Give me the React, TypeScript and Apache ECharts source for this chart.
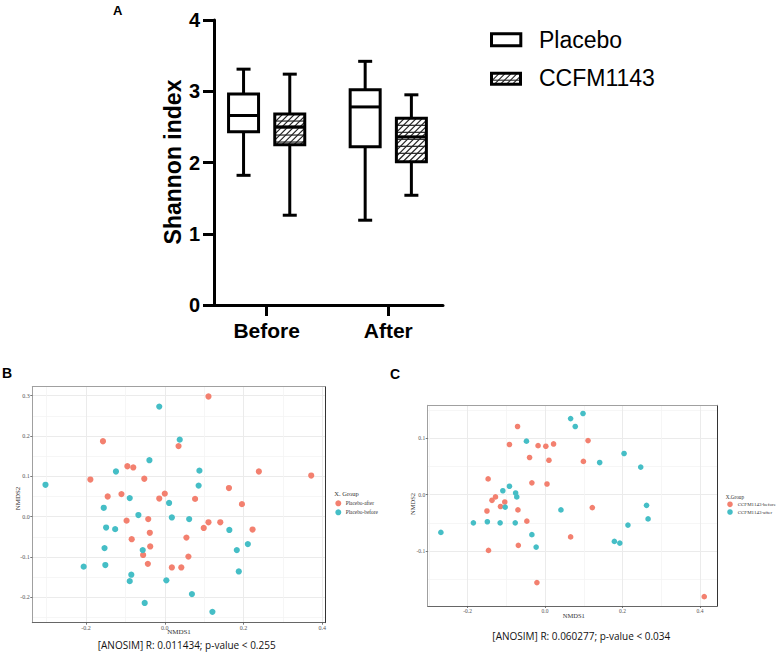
import React, { useEffect, useRef } from "react";
import * as echarts from "echarts";

// ---------- Panel A: Shannon index box plots ----------
const timepoints = ["Before", "After"];
const groups = ["Placebo", "CCFM1143"];
// [min, Q1, median, Q3, max] per timepoint
const placeboBox = [
  [1.82, 2.43, 2.66, 2.96, 3.31],
  [1.19, 2.22, 2.78, 3.02, 3.42],
];
const ccfmBox = [
  [1.26, 2.25, 2.5, 2.68, 3.24],
  [1.54, 2.01, 2.36, 2.62, 2.95],
];

// ---------- Panel B: NMDS placebo ----------
const placeboAfter = [
  [0.111, 0.298], [-0.157, 0.187], [0.035, 0.175], [-0.095, 0.125], [-0.08, 0.122],
  [-0.189, 0.092], [-0.052, 0.094], [0.239, 0.112], [0.372, 0.102], [0.163, 0.071],
  [-0.145, 0.05], [-0.11, 0.056], [0.0, 0.057], [-0.014, 0.045], [0.077, 0.044],
  [0.196, 0.031], [-0.097, -0.01], [-0.042, -0.006], [0.111, -0.014], [0.141, -0.014],
  [0.099, -0.028], [0.223, -0.032], [-0.038, -0.04], [-0.084, -0.056], [0.055, -0.052],
  [-0.037, -0.074], [-0.055, -0.095], [0.06, -0.099], [-0.043, -0.117], [0.018, -0.126],
  [0.042, -0.126],
];
const placeboBefore = [
  [-0.014, 0.273], [0.038, 0.191], [-0.039, 0.14], [-0.124, 0.112], [0.088, 0.114],
  [-0.303, 0.079], [0.086, 0.077], [-0.089, 0.046], [0.011, 0.034], [-0.155, 0.022],
  [-0.067, 0.004], [0.018, -0.002], [0.062, -0.006], [-0.149, -0.027], [-0.126, -0.031],
  [0.164, -0.033], [-0.153, -0.078], [-0.056, -0.083], [0.211, -0.068], [0.183, -0.083],
  [-0.206, -0.124], [-0.151, -0.12], [-0.085, -0.144], [-0.089, -0.16], [0.004, -0.158],
  [0.188, -0.136], [0.069, -0.192], [-0.051, -0.214], [0.121, -0.236],
];

// ---------- Panel C: NMDS CCFM1143 ----------
const ccfmBefore = [
  [-0.071, 0.121], [0.111, 0.096], [-0.092, 0.089], [-0.018, 0.087], [0.002, 0.086],
  [0.022, 0.09], [-0.04, 0.066], [0.01, 0.061], [0.099, 0.059], [-0.147, 0.028],
  [-0.034, 0.021], [0.005, 0.019], [-0.128, -0.004], [-0.137, -0.01], [-0.104, -0.013],
  [-0.115, -0.021], [-0.07, -0.027], [-0.15, -0.029], [0.122, -0.023], [-0.047, -0.047],
  [0.066, -0.075], [-0.069, -0.09], [-0.146, -0.099], [-0.021, -0.156], [0.411, -0.181],
];
const ccfmAfter = [
  [0.098, 0.144], [0.066, 0.135], [0.078, 0.121], [-0.048, 0.095], [0.204, 0.073],
  [0.141, 0.057], [0.247, 0.049], [-0.092, 0.015], [-0.109, 0.007], [-0.076, 0.003],
  [-0.073, -0.004], [-0.103, -0.022], [0.041, -0.027], [0.262, -0.019], [0.266, -0.043],
  [-0.185, -0.05], [-0.149, -0.048], [-0.116, -0.05], [-0.077, -0.05], [0.214, -0.054],
  [-0.034, -0.071], [-0.269, -0.067], [-0.023, -0.093], [0.179, -0.083], [0.193, -0.086],
];

const anosimB = "[ANOSIM] R: 0.011434; p-value < 0.255";
const anosimC = "[ANOSIM] R: 0.060277; p-value < 0.034";

const RED = "#F3806F";
const TEAL = "#45BEC6";
const SANS = "Liberation Sans";
const SERIF = "Liberation Serif";

function hatchSegments(x0: number, y0: number, x1: number, y1: number) {
  const segs: number[][] = [];
  const rowStep = 7;
  const diagStep = 6;
  for (let y = y0 + rowStep; y < y1 - 1.5; y += rowStep) segs.push([x0, y, x1, y]);
  for (let c = x0 + y0 + 2; c < x1 + y1; c += diagStep) {
    const xa = Math.max(x0, c - y1);
    const xb = Math.min(x1, c - y0);
    if (xb - xa > 0.6) segs.push([xa, c - xa, xb, c - xb]);
  }
  return segs;
}

function boxRenderItem(params: any, api: any) {
  const pos = api.value(0);
  const mn = api.value(1), q1 = api.value(2), md = api.value(3), q3 = api.value(4), mx = api.value(5);
  const hatched = api.value(6) === 1;
  const pMax = api.coord([pos, mx]);
  const pQ3 = api.coord([pos, q3]);
  const pMd = api.coord([pos, md]);
  const pQ1 = api.coord([pos, q1]);
  const pMin = api.coord([pos, mn]);
  const cx = pMax[0];
  const hw = 15;
  const cw = 7;
  const lw = 3;
  const st = { stroke: "#000", lineWidth: lw };
  const children: any[] = [];
  children.push({ type: "line", shape: { x1: cx, y1: pMax[1], x2: cx, y2: pQ3[1] }, style: st });
  children.push({ type: "line", shape: { x1: cx, y1: pQ1[1], x2: cx, y2: pMin[1] }, style: st });
  children.push({ type: "line", shape: { x1: cx - cw, y1: pMax[1], x2: cx + cw, y2: pMax[1] }, style: st });
  children.push({ type: "line", shape: { x1: cx - cw, y1: pMin[1], x2: cx + cw, y2: pMin[1] }, style: st });
  children.push({
    type: "rect",
    shape: { x: cx - hw, y: pQ3[1], width: 2 * hw, height: pQ1[1] - pQ3[1] },
    style: { fill: "#fff", stroke: null },
  });
  if (hatched) {
    hatchSegments(cx - hw, pQ3[1], cx + hw, pQ1[1]).forEach((s) => {
      children.push({ type: "line", shape: { x1: s[0], y1: s[1], x2: s[2], y2: s[3] }, style: { stroke: "#222", lineWidth: 1.2 } });
    });
  }
  children.push({ type: "line", shape: { x1: cx - hw, y1: pMd[1], x2: cx + hw, y2: pMd[1] }, style: st });
  children.push({
    type: "rect",
    shape: { x: cx - hw, y: pQ3[1], width: 2 * hw, height: pQ1[1] - pQ3[1] },
    style: { fill: null, stroke: "#000", lineWidth: lw },
  });
  return { type: "group", children };
}

function ggX(gridIndex: number, min: number, max: number, interval: number, fontSize: number, margin: number) {
  return {
    type: "value", gridIndex, min, max, minInterval: interval, maxInterval: interval, position: "bottom",
    axisLine: { show: true, onZero: false, lineStyle: { color: "#666", width: 1 } },
    axisTick: { show: true, length: 2, lineStyle: { color: "#555", width: 0.8 } },
    axisLabel: { show: true, fontSize, fontFamily: SERIF, color: "#555", margin, showMinLabel: false, showMaxLabel: false, formatter: (v: number) => v.toFixed(1) },
    splitLine: { show: true, lineStyle: { color: "#ebebeb", width: 1 } },
    minorTick: { show: false, splitNumber: 2 },
    minorSplitLine: { show: true, lineStyle: { color: "#f4f4f4", width: 0.8 } },
  };
}
function ggY(gridIndex: number, min: number, max: number, interval: number, fontSize: number, margin: number) {
  return {
    type: "value", gridIndex, min, max, minInterval: interval, maxInterval: interval, position: "left",
    axisLine: { show: true, onZero: false, lineStyle: { color: "#a0a0a0", width: 1 } },
    axisTick: { show: true, length: 2, lineStyle: { color: "#555", width: 0.8 } },
    axisLabel: { show: true, fontSize, fontFamily: SERIF, color: "#555", margin, showMinLabel: false, showMaxLabel: false, formatter: (v: number) => v.toFixed(1) },
    splitLine: { show: true, lineStyle: { color: "#ebebeb", width: 1 } },
    minorTick: { show: false, splitNumber: 2 },
    minorSplitLine: { show: true, lineStyle: { color: "#f4f4f4", width: 0.8 } },
  };
}
function borderAxis(kind: "x" | "y", gridIndex: number, min: number, max: number, position: string, color: string) {
  return {
    type: "value", gridIndex, min, max, position,
    axisLine: { show: true, onZero: false, lineStyle: { color, width: 1 } },
    axisTick: { show: false }, axisLabel: { show: false }, splitLine: { show: false },
  };
}

function txt(text: string, x: number, y: number, extra: any = {}, style: any = {}) {
  return {
    type: "text", x, y, ...extra,
    style: { text, align: "left", verticalAlign: "middle", fill: "#000", fontFamily: SANS, fontSize: 12, ...style },
  };
}

export default function App() {
  const ref = useRef<HTMLDivElement>(null);
  useEffect(() => {
    if (!ref.current) return;
    const chart = echarts.init(ref.current, undefined, { renderer: "svg" });

    const groupOffset = [-0.19, 0.19];
    const placeboData = timepoints.map((_, ti) => [ti + groupOffset[0], ...placeboBox[ti], 0]);
    const ccfmData = timepoints.map((_, ti) => [ti + groupOffset[1], ...ccfmBox[ti], 1]);

    const bx = { min: -0.3365, max: 0.407 };
    const by = { min: -0.263, max: 0.3223 };
    const cxr = { min: -0.303, max: 0.4447 };
    const cyr = { min: -0.1976, max: 0.1586 };

    const legendHatch = hatchSegments(491.5, 73.2, 520.5, 84.2).map((s) => ({
      type: "line", shape: { x1: s[0], y1: s[1], x2: s[2], y2: s[3] }, style: { stroke: "#222", lineWidth: 1.1 },
    }));

    const option: any = {
      animation: false,
      grid: [
        { left: 214, top: 20, width: 229, height: 285, containLabel: false, outerBoundsMode: "none" },
        { left: 32.3, top: 386.7, width: 292.7, height: 236, containLabel: false, outerBoundsMode: "none" },
        { left: 427.7, top: 405.3, width: 289.6, height: 200.7, containLabel: false, outerBoundsMode: "none" },
      ],
      xAxis: [
        {
          type: "value", gridIndex: 0, min: -0.433, max: 1.45, position: "bottom",
          axisLine: { show: true, onZero: false, lineStyle: { color: "#000", width: 3 } },
          axisTick: { show: true, customValues: [0, 1], length: 11, lineStyle: { color: "#000", width: 3 } },
          axisLabel: {
            show: true, customValues: [0, 1], margin: 15, fontSize: 21, fontWeight: "bold", fontFamily: SANS, color: "#000",
            formatter: (v: number) => timepoints[Math.round(v)] ?? "",
          },
          splitLine: { show: false },
        },
        ggX(1, bx.min, bx.max, 0.2, 6, 2),
        borderAxis("x", 1, bx.min, bx.max, "top", "#a0a0a0"),
        ggX(2, cxr.min, cxr.max, 0.2, 5.5, 1.5),
        borderAxis("x", 2, cxr.min, cxr.max, "top", "#a0a0a0"),
      ],
      yAxis: [
        {
          type: "value", gridIndex: 0, min: 0, max: 4, interval: 1,
          axisLine: { show: true, onZero: false, lineStyle: { color: "#000", width: 3 } },
          axisTick: { show: true, length: 11, lineStyle: { color: "#000", width: 3 } },
          axisLabel: { show: true, margin: 14, fontSize: 20, fontWeight: "bold", fontFamily: SANS, color: "#000" },
          splitLine: { show: false },
        },
        ggY(1, by.min, by.max, 0.1, 6, 2.5),
        borderAxis("y", 1, by.min, by.max, "right", "#333"),
        ggY(2, cyr.min, cyr.max, 0.1, 5.5, 2.5),
        borderAxis("y", 2, cyr.min, cyr.max, "right", "#333"),
      ],
      series: [
        { name: groups[0], type: "custom", xAxisIndex: 0, yAxisIndex: 0, renderItem: boxRenderItem, encode: { x: 0, y: [1, 2, 3, 4, 5] }, data: placeboData },
        { name: groups[1], type: "custom", xAxisIndex: 0, yAxisIndex: 0, renderItem: boxRenderItem, encode: { x: 0, y: [1, 2, 3, 4, 5] }, data: ccfmData },
        { name: "Placebo-after", type: "scatter", xAxisIndex: 1, yAxisIndex: 1, symbolSize: 6.2, itemStyle: { color: RED, opacity: 1 }, data: placeboAfter },
        { name: "Placebo-before", type: "scatter", xAxisIndex: 1, yAxisIndex: 1, symbolSize: 6.2, itemStyle: { color: TEAL, opacity: 1 }, data: placeboBefore },
        { name: "CCFM1143-before", type: "scatter", xAxisIndex: 3, yAxisIndex: 3, symbolSize: 5.6, itemStyle: { color: RED, opacity: 1 }, data: ccfmBefore },
        { name: "CCFM1143-after", type: "scatter", xAxisIndex: 3, yAxisIndex: 3, symbolSize: 5.6, itemStyle: { color: TEAL, opacity: 1 }, data: ccfmAfter },
      ],
      graphic: [
        // panel letters
        txt("A", 113, 10, {}, { fontSize: 13, fontWeight: "bold" }),
        txt("B", 2, 373, {}, { fontSize: 14, fontWeight: "bold" }),
        txt("C", 390, 374, {}, { fontSize: 14, fontWeight: "bold" }),
        // panel A y title
        txt("Shannon index", 173, 162, { rotation: Math.PI / 2 }, { align: "center", fontSize: 23, fontWeight: "bold" }),
        // panel A legend
        { type: "rect", shape: { x: 491.5, y: 33.8, width: 29.3, height: 12 }, style: { fill: "#fff", stroke: "#000", lineWidth: 3 } },
        txt(groups[0], 539, 40, {}, { fontSize: 23 }),
        { type: "rect", shape: { x: 491.5, y: 73.2, width: 29, height: 11 }, style: { fill: "#fff", stroke: null } },
        ...legendHatch,
        { type: "rect", shape: { x: 491.5, y: 73.2, width: 29, height: 11 }, style: { fill: null, stroke: "#000", lineWidth: 3 } },
        txt(groups[1], 539, 77.5, {}, { fontSize: 23 }),
        // panel B titles & legend
        txt("NMDS1", 179, 632, {}, { align: "center", fontFamily: SERIF, fontSize: 7, fill: "#333" }),
        txt("NMDS2", 18, 498.5, { rotation: Math.PI / 2 }, { align: "center", fontFamily: SERIF, fontSize: 7, fill: "#333" }),
        txt("X. Group", 334.3, 493.3, {}, { fontFamily: SERIF, fontSize: 6.5, fill: "#333" }),
        { type: "circle", shape: { cx: 338.3, cy: 503.3, r: 3 }, style: { fill: RED } },
        { type: "circle", shape: { cx: 338.3, cy: 512.3, r: 3 }, style: { fill: TEAL } },
        txt("Placebo-after", 345.7, 503.3, {}, { fontFamily: SERIF, fontSize: 5.3, fill: "#333" }),
        txt("Placebo-before", 345.7, 512.3, {}, { fontFamily: SERIF, fontSize: 5.3, fill: "#333" }),
        txt(anosimB, 186.7, 645, {}, { align: "center", fontFamily: "Open Sans", fontSize: 10, fill: "#111" }),
        // panel C titles & legend
        txt("NMDS1", 573.8, 615, {}, { align: "center", fontFamily: SERIF, fontSize: 6.5, fill: "#333" }),
        txt("NMDS2", 412.7, 504, { rotation: Math.PI / 2 }, { align: "center", fontFamily: SERIF, fontSize: 6.5, fill: "#333" }),
        txt("X.Group", 725.7, 496.7, {}, { fontFamily: SERIF, fontSize: 5.2, fill: "#333" }),
        { type: "circle", shape: { cx: 730, cy: 504.3, r: 2.8 }, style: { fill: RED } },
        { type: "circle", shape: { cx: 730, cy: 512, r: 2.8 }, style: { fill: TEAL } },
        txt("CCFM1143-before", 737.7, 504.3, {}, { fontFamily: SERIF, fontSize: 5, fill: "#333" }),
        txt("CCFM1143-after", 737.7, 512, {}, { fontFamily: SERIF, fontSize: 5, fill: "#333" }),
        txt(anosimC, 581.3, 635.7, {}, { align: "center", fontFamily: "Open Sans", fontSize: 10, fill: "#111" }),
      ],
    };
    chart.setOption(option);
    return () => chart.dispose();
  }, []);
  return <div ref={ref} style={{ position: "absolute", left: 0, top: 0, width: 782, height: 657, background: "#fff" }} />;
}
